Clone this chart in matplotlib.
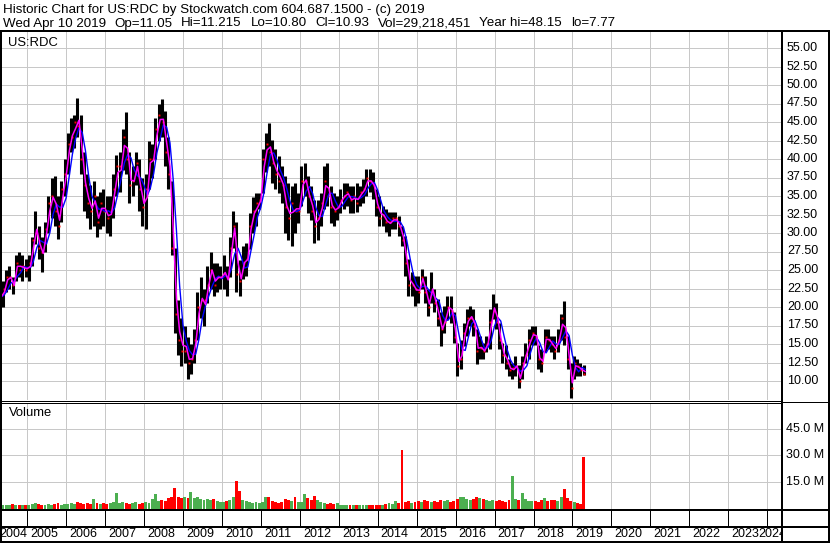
import numpy as np
import pandas as pd
import matplotlib
matplotlib.use('Agg')
import matplotlib.pyplot as plt
from matplotlib.lines import Line2D
from matplotlib.transforms import blended_transform_factory

plt.rcParams['font.family'] = ['Liberation Sans', 'DejaVu Sans']

# ---------------- data (monthly, Apr 2004 .. Apr 2019) ----------------
months = pd.date_range('2004-04-01', '2019-04-01', freq='MS')

high_2004 = [23, 23.5, 25, 25.5, 24, 27, 27.5, 27, 26.5]
low_2004 = [20, 20, 22, 22.5, 21.8, 23.5, 24, 23.5, 24]
close_2004 = [21, 22.5, 24, 24, 23, 26, 25, 25.5, 25]

high_2005 = [27, 29.5, 33, 31, 29.5, 31.5, 35, 37.5, 37.7, 35, 37, 40]
low_2005 = [23.5, 25.5, 28.5, 26.5, 24.7, 27.5, 30, 32, 31, 29.2, 31.5, 35]
close_2005 = [26, 29, 30, 28, 27.5, 30.5, 34, 35, 33, 31, 36, 38]

high_2006 = [43.5, 45.5, 46, 48.2, 46, 41, 38, 36.5, 37, 35, 35.5, 36]
low_2006 = [38, 41, 41.5, 43, 38, 33, 32, 30.5, 31, 29.5, 30.5, 31]
close_2006 = [42, 43, 45, 44.5, 40, 36.5, 34, 33, 35, 31.5, 34, 33]

high_2007 = [35, 35, 38, 40.5, 41, 44, 46.3, 41, 39, 41, 40, 37.5]
low_2007 = [30, 29.6, 32, 35, 35.5, 38.5, 38, 34, 35, 36.5, 33, 31]
close_2007 = [32, 33, 36, 39, 39, 43, 40, 36.5, 37, 39.5, 36, 33.5]

high_2008 = [38, 42.5, 42, 45.5, 47.5, 48.1, 46.5, 43, 37, 28, 21, 18.5]
low_2008 = [30.5, 36, 37.5, 40, 42.5, 43, 39, 36, 27, 16.5, 13.5, 12]
close_2008 = [36, 40, 40, 44, 46, 45, 41, 38, 28, 19, 15.5, 14]

high_2009 = [17.5, 16, 15, 17, 22, 24, 22.5, 25.5, 27.5, 26, 26, 25.5]
low_2009 = [12.5, 10.3, 11, 12.5, 15.5, 18.5, 17.5, 20.5, 22.5, 21.5, 22, 22.5]
close_2009 = [14, 12.5, 13, 15.5, 20, 21, 21, 23, 25, 23, 24, 24]

high_2010 = [27, 25.5, 29.5, 33, 31.5, 26.4, 28.2, 28.6, 32.7, 34.9, 35.4, 35.4]
low_2010 = [22.5, 21.5, 24, 28, 22, 21.5, 23.8, 24.2, 27.8, 30, 30.9, 33.2]
close_2010 = [24.5, 24, 28, 31, 24.5, 23.5, 26, 26.5, 31, 33, 34, 34.5]

high_2011 = [41.3, 43.5, 44.9, 42.6, 41.3, 40.4, 39, 37.7, 36.8, 36.3, 36.8, 35.4]
low_2011 = [35.4, 38.2, 39, 36.8, 35.9, 35.4, 34.1, 30, 29.1, 28.2, 30, 31.4]
close_2011 = [40, 42, 41, 39.5, 38, 37, 36.5, 33.5, 32, 34, 33, 33]

high_2012 = [39, 39.5, 37.7, 36.3, 34.5, 34.5, 35.4, 39, 39.5, 36.3, 35.4, 35]
low_2012 = [33.6, 35, 32.7, 31.8, 28.7, 29.1, 30.9, 33.2, 33.6, 31.4, 30.9, 31.8]
close_2012 = [37, 37, 35, 33, 31, 32, 34, 37, 35, 33.5, 33, 33.5]

high_2013 = [35.9, 36.8, 36.8, 36.3, 36.3, 36.8, 36.4, 37.3, 38.6, 38.6, 38.2, 35.9]
low_2013 = [32.7, 33.2, 33.6, 32.7, 32.7, 32.8, 33.7, 34.1, 35, 35.5, 34.6, 32.3]
close_2013 = [34.5, 35, 35.5, 34.5, 35, 34, 35.5, 36, 37.5, 37, 36.5, 33.5]

high_2014 = [35, 33.7, 33.2, 32.8, 32.8, 32.8, 32.3, 31, 29.6, 26.5, 24.7, 24.2]
low_2014 = [31, 31, 30.1, 29.6, 30.5, 30.5, 29.6, 28.3, 24.2, 21.5, 21.5, 20.2]
close_2014 = [32, 32.5, 31.5, 31.5, 32, 32, 31, 29, 26, 23, 23, 22.5]

high_2015 = [24.2, 25.1, 24.2, 22.4, 24.7, 22.4, 21.1, 19.3, 20.2, 21.5, 21.5, 19.3]
low_2015 = [20.6, 22.4, 20.6, 18.8, 20.6, 19.3, 17.4, 14.7, 16.5, 18.3, 17.9, 15.2]
close_2015 = [22, 24, 22, 20, 22, 20.5, 18.5, 17, 18, 20, 19.5, 16]

high_2016 = [15.2, 15.6, 17.9, 19.7, 20.2, 19.7, 17, 16.1, 15.2, 16.1, 19.7, 21.7]
low_2016 = [10.7, 11.6, 14.7, 16.1, 17.4, 16.1, 12.3, 13, 13, 13.9, 14.3, 18.4]
close_2016 = [12, 13, 16.5, 18.5, 18.5, 17.5, 14, 14.5, 14, 15, 18, 19.5]

high_2017 = [20.6, 17.9, 15.2, 14.8, 13, 12.5, 13.4, 12.1, 13.4, 15.2, 17, 17.5]
low_2017 = [17, 14.3, 12.5, 11.6, 10.7, 10.3, 10.7, 9.0, 10.3, 12.5, 13, 14.8]
close_2017 = [18, 15.5, 13.5, 12.5, 11.5, 11.8, 12, 10, 12.5, 13.5, 15.5, 16.5]

high_2018 = [17.5, 14.8, 14.3, 17, 17, 16.1, 16.1, 17, 19, 20.8, 16.1, 12.5]
low_2018 = [14.8, 11.6, 11.2, 13.9, 14.3, 13.9, 13, 13.9, 15.5, 14.8, 11.6, 7.77]
close_2018 = [16, 13, 12.5, 16, 15.5, 15, 14, 15.5, 18.5, 16, 13, 9]

high_2019 = [13.4, 13, 12.5, 12.1]
low_2019 = [10.3, 10.7, 10.7, 10.8]
close_2019 = [12.5, 12, 11.5, 10.93]

# volume in millions of shares
volume_2004 = [2.5, 2.0, 2.5, 2.0, 3.0, 2.5, 2.5, 2.0, 2.5]
volume_2005 = [2.5, 3.0, 3.5, 3.0, 2.5, 2.5, 3.0, 2.5, 3.0, 3.5, 2.5, 3.0]
volume_2006 = [3.0, 3.5, 3.0, 4.0, 3.5, 3.0, 3.5, 3.0, 5.5, 3.5, 3.0, 3.5]
volume_2007 = [3.0, 3.5, 4.0, 9.0, 3.5, 4.0, 3.5, 3.0, 3.5, 4.0, 3.0, 3.5]
volume_2008 = [4.0, 3.5, 5.5, 8.5, 4.5, 5.0, 4.5, 6.0, 6.5, 11.5, 7.0, 6.0]
volume_2009 = [6.5, 6.0, 9.5, 6.0, 6.5, 5.5, 5.0, 5.5, 5.0, 5.5, 4.5, 4.0]
volume_2010 = [4.0, 4.5, 5.0, 7.0, 15.5, 10.0, 5.0, 4.5, 4.0, 3.5, 4.0, 3.5]
volume_2011 = [4.0, 7.0, 6.5, 4.5, 4.0, 3.5, 4.0, 5.5, 5.0, 4.5, 6.5, 4.0]
volume_2012 = [4.0, 8.5, 6.0, 5.0, 7.5, 5.0, 4.0, 3.5, 3.0, 3.5, 3.0, 3.5]
volume_2013 = [2.5, 2.5, 2.0, 2.5, 2.5, 2.0, 2.0, 2.5, 2.5, 2.0, 2.5, 2.5]
volume_2014 = [2.5, 2.5, 3.0, 3.5, 3.0, 4.5, 3.5, 33.0, 4.0, 4.5, 3.5, 4.0]
volume_2015 = [4.5, 4.0, 5.0, 4.5, 4.0, 4.5, 4.0, 5.0, 4.5, 5.0, 4.0, 4.5]
volume_2016 = [5.5, 7.0, 6.5, 5.5, 5.0, 5.5, 7.0, 6.0, 5.5, 5.0, 4.5, 5.0]
volume_2017 = [4.5, 5.0, 4.5, 4.0, 5.0, 18.5, 5.5, 5.0, 9.0, 5.5, 4.5, 4.5]
volume_2018 = [4.5, 4.0, 5.0, 6.0, 4.5, 5.0, 5.0, 4.5, 7.0, 11.0, 6.0, 4.5]
volume_2019 = [4.0, 3.5, 3.0, 29.2]

price_ticks = [10, 12.5, 15, 17.5, 20, 22.5, 25, 27.5, 30, 32.5, 35, 37.5,
               40, 42.5, 45, 47.5, 50, 52.5, 55]
volume_ticks = [15, 30, 45]
year_labels = list(range(2004, 2025))

title_line1 = "Historic Chart for US:RDC by Stockwatch.com 604.687.1500 - (c) 2019"
header_fields = ["Wed Apr 10 2019", "Op=11.05", "Hi=11.215", "Lo=10.80",
                 "Cl=10.93", "Vol=29,218,451", "Year hi=48.15", "lo=7.77"]

years = range(2004, 2020)
high = np.array(sum([globals()[f'high_{y}'] for y in years], []), float)
low = np.array(sum([globals()[f'low_{y}'] for y in years], []), float)
close = np.array(sum([globals()[f'close_{y}'] for y in years], []), float)
volume = np.array(sum([globals()[f'volume_{y}'] for y in years], []), float)


def dec_year(ts):
    start = pd.Timestamp(year=ts.year, month=1, day=1)
    end = pd.Timestamp(year=ts.year + 1, month=1, day=1)
    return ts.year + (ts - start) / (end - start)


x_mid = np.array([dec_year(m + pd.Timedelta(days=15)) for m in months])
x_end = np.array([dec_year(m + pd.offsets.MonthEnd(0)) for m in months])

typical = pd.Series((high + low + close) / 3.0)
ma_short = typical.values
ma_long = typical.rolling(3, min_periods=1).mean().values

# ---------------- layout (pixels) ----------------
W, H = 830, 543
PX_PER_YEAR = 38.94
X2005 = 27.3
PLOT_R = 782
xlim = (2005 - X2005 / PX_PER_YEAR, 2005 + (PLOT_R - X2005) / PX_PER_YEAR)

fig = plt.figure(figsize=(W / 100, H / 100), dpi=100)
fig.patch.set_facecolor('white')


def rect(x0, y0, x1, y1):
    return [x0 / W, 1 - y1 / H, (x1 - x0) / W, (y1 - y0) / H]


def hline(y, x0, x1, lw_px=1):
    fig.add_artist(Line2D([x0 / W, x1 / W], [1 - y / H, 1 - y / H],
                          transform=fig.transFigure, color='black',
                          lw=lw_px * 0.72, solid_capstyle='butt'))


def vline(x, y0, y1, lw_px=1):
    fig.add_artist(Line2D([x / W, x / W], [1 - y0 / H, 1 - y1 / H],
                          transform=fig.transFigure, color='black',
                          lw=lw_px * 0.72, solid_capstyle='butt'))


GRID = '#c8c8c8'
FS = 9
FS_HEAD = 9.6
FS_PANE = 9.4

# price pane
P_TOP, P_BOT = 31, 400
ax = fig.add_axes(rect(0, P_TOP, PLOT_R, P_BOT))
y_top = 10 + (381 - P_TOP) / 7.4
y_bot = 10 - (P_BOT - 381) / 7.4
ax.set_xlim(*xlim)
ax.set_ylim(y_bot, y_top)
ax.axis('off')
for v in price_ticks:
    ax.axhline(v, color=GRID, lw=0.72, zorder=0)
for yr in year_labels[1:]:
    ax.axvline(yr, color=GRID, lw=0.72, zorder=0)
ax.vlines(x_mid, low, high, color='black', lw=2.2, zorder=2)
ax.plot(x_mid + 0.02, close, linestyle='none', marker='s', ms=1.4,
        mec='none', mfc='#ff0000', zorder=3)
ax.plot(x_end, ma_long, color='#0000ff', lw=1.0, zorder=4)
ax.plot(x_end, ma_short, color='#ff00ff', lw=1.1, zorder=5)
ax.text(8 / PLOT_R, 1 - (43 - P_TOP) / (P_BOT - P_TOP), 'US:RDC',
        transform=ax.transAxes, fontsize=FS_PANE, va='center', ha='left')
ptrans = blended_transform_factory(ax.transAxes, ax.transData)
for v in price_ticks:
    ax.text(787 / PLOT_R, v, f'{v:.2f}', transform=ptrans, fontsize=FS,
            va='center', ha='left', clip_on=False)

# volume pane
V_TOP, V_BOT = 403, 509
axv = fig.add_axes(rect(0, V_TOP, PLOT_R, V_BOT))
axv.set_xlim(*xlim)
axv.set_ylim(0, 59.4)
axv.axis('off')
for v in volume_ticks:
    axv.axhline(v, color=GRID, lw=0.72, zorder=0)
for yr in year_labels[1:]:
    axv.axvline(yr, color=GRID, lw=0.72, zorder=0)
prev = np.concatenate([[close[0]], close[:-1]])
vcolors = np.where(close >= prev, '#4caf50', '#ff0000')
axv.bar(x_mid, volume, width=0.9 / 12, color=vcolors, linewidth=0, zorder=2)
axv.text(9 / PLOT_R, 1 - (413 - V_TOP) / (V_BOT - V_TOP), 'Volume',
         transform=axv.transAxes, fontsize=FS_PANE, va='center', ha='left')
vtrans = blended_transform_factory(axv.transAxes, axv.transData)
for v in volume_ticks:
    axv.text(786 / PLOT_R, v, f'{v:.1f} M', transform=vtrans, fontsize=FS,
             va='center', ha='left', clip_on=False)

# tick row
axt = fig.add_axes(rect(0, 510, PLOT_R, 527))
axt.set_xlim(*xlim)
axt.set_ylim(0, 1)
axt.axis('off')
axt.vlines(year_labels[1:], 0, 1, color='black', lw=0.72)

# label row
axl = fig.add_axes(rect(0, 527, PLOT_R, 541))
axl.set_xlim(*xlim)
axl.set_ylim(0, 1)
axl.axis('off')
for yr in year_labels:
    if yr == 2004:
        xp = xlim[0] - 1 / PX_PER_YEAR
    elif yr == 2024:
        xp = 2005 + (758 - X2005) / PX_PER_YEAR
    else:
        xp = yr + 3 / PX_PER_YEAR
    axl.text(xp, 0.5, str(yr), fontsize=FS, va='center', ha='left', clip_on=True)

# frame lines
hline(30.5, 0, W, 2)
vline(1, 30, H, 2)
vline(PLOT_R, 30, H, 2)
vline(W - 1, 30, H, 2)
hline(400.5, 0, PLOT_R, 1)
hline(402.5, 0, PLOT_R, 1)
hline(401.5, PLOT_R, W, 1)
hline(509.5, 0, W, 2)
hline(526.5, 0, W, 2)
hline(541.5, 0, W, 2)

# header
fig.text(3 / W, 1 - 9.5 / H, title_line1, fontsize=FS_HEAD, va='center', ha='left')
renderer = fig.canvas.get_renderer()
hx = 3.0
GAP = 8.5
for field in header_fields:
    t = fig.text(hx / W, 1 - 23.5 / H, field, fontsize=FS_HEAD, va='center', ha='left')
    bb = t.get_window_extent(renderer=renderer)
    hx += bb.width + GAP

fig.savefig('out.png', dpi=100, facecolor='white')
